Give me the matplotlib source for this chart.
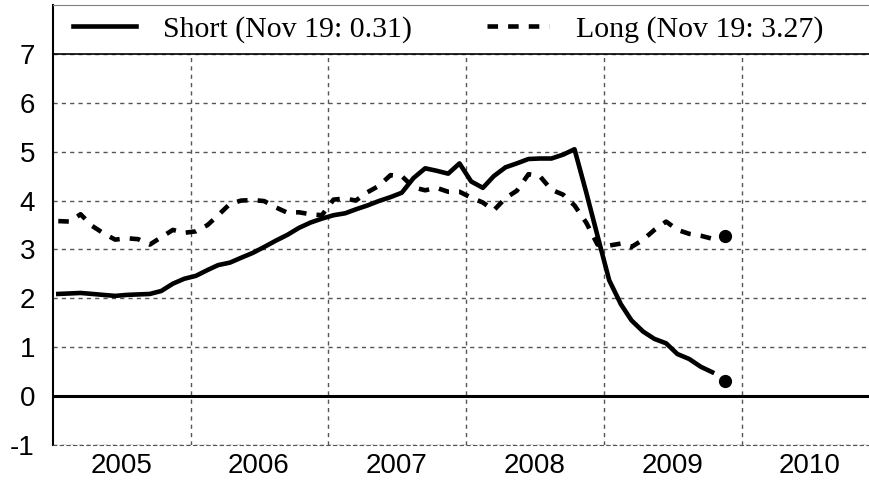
import numpy as np
import pandas as pd
import matplotlib
matplotlib.use("Agg")
import matplotlib.pyplot as plt

# Monthly readings, Jan 2005 .. Oct 2009 (plotted mid-month)
months = pd.date_range("2005-01-01", "2009-10-01", freq="MS") + pd.Timedelta(days=14)

short_rate = [2.09, 2.10, 2.11, 2.09, 2.07, 2.05, 2.07, 2.08, 2.09, 2.15, 2.30, 2.40,
              2.46, 2.58, 2.68, 2.73, 2.83, 2.93, 3.05, 3.18, 3.30, 3.44, 3.55, 3.63,
              3.70, 3.74, 3.82, 3.90, 3.99, 4.07, 4.16, 4.46, 4.66, 4.61, 4.55, 4.76,
              4.39, 4.26, 4.50, 4.68, 4.76, 4.85, 4.86, 4.86, 4.94, 5.05, 4.17, 3.28,
              2.37, 1.88, 1.55, 1.32, 1.17, 1.08, 0.86, 0.76, 0.60, 0.49]

long_rate = [3.58, 3.57, 3.72, 3.48, 3.33, 3.20, 3.23, 3.21, 3.10, 3.25, 3.40, 3.34,
             3.37, 3.50, 3.70, 3.93, 4.00, 4.01, 3.99, 3.86, 3.75, 3.76, 3.72, 3.70,
             4.02, 4.04, 4.00, 4.17, 4.30, 4.52, 4.50, 4.27, 4.21, 4.26, 4.18, 4.18,
             4.06, 3.96, 3.80, 4.05, 4.20, 4.54, 4.50, 4.22, 4.12, 3.90, 3.55, 3.10,
             3.08, 3.12, 3.05, 3.20, 3.40, 3.57, 3.40, 3.32, 3.28, 3.22]

latest_date = pd.Timestamp("2009-11-19")
latest_short = 0.31
latest_long = 3.27

years = [2005, 2006, 2007, 2008, 2009, 2010]
y_ticks = [-1, 0, 1, 2, 3, 4, 5, 6, 7]

fig = plt.figure(figsize=(8.69, 4.80), dpi=100)
ax = fig.add_axes([53 / 869, 35 / 480, 816 / 869, 440 / 480])

ax.plot(months, short_rate, color="black", lw=3.3, solid_joinstyle="round",
        label=f"Short (Nov 19: {latest_short:.2f})")
ax.plot(months, long_rate, color="black", lw=3.3, linestyle=(0, (2.3, 2.2)),
        label=f"Long (Nov 19: {latest_long:.2f})")
ax.plot([latest_date], [latest_short], "o", color="black", ms=8.5)
ax.plot([latest_date], [latest_long], "o", color="black", ms=8.5)

ax.axhline(0, color="black", lw=2.2, zorder=1)

# legend strip across the top of the plot (7..8)
ax.axhspan(7, 8, color="white", zorder=2, lw=0)
ax.axhline(7, color="black", lw=1.2, zorder=2.1)

ax.set_xlim(pd.Timestamp("2005-01-01"), pd.Timestamp("2010-12-05"))
ax.set_ylim(-1, 8)

# year boundaries carry the grid, labels sit mid-year
ax.set_xticks([pd.Timestamp(f"{y}-01-01") for y in years[1:]])
ax.set_xticklabels([])
ax.set_xticks([pd.Timestamp(f"{y}-07-01") for y in years], minor=True)
ax.set_xticklabels([str(y) for y in years], minor=True)
ax.set_yticks(y_ticks)
ax.set_yticklabels([str(v) for v in y_ticks])

ax.tick_params(axis="both", which="both", length=0)
ax.tick_params(axis="y", pad=13, labelsize=20)
ax.tick_params(axis="x", which="minor", pad=6, labelsize=20)
for lab in ax.get_xticklabels(minor=True) + ax.get_yticklabels():
    lab.set_fontfamily("Liberation Sans")

ax.grid(True, which="major", color="#555555", lw=1, linestyle=(0, (3, 3)))
ax.set_axisbelow(True)

ax.spines["right"].set_visible(False)
ax.spines["top"].set_color("#808080")
ax.spines["left"].set_color("black")
ax.spines["left"].set_linewidth(1.5)
ax.spines["bottom"].set_color("#555555")
ax.spines["bottom"].set_linestyle((0, (3, 3)))

leg = ax.legend(loc="center left", bbox_to_anchor=(0.014, 1 - 0.5 / 9), ncol=2,
                borderaxespad=0, borderpad=0.3, handlelength=2.1, handletextpad=0.9,
                columnspacing=2.5, frameon=False,
                prop={"family": "Liberation Serif", "size": 21.5})
leg.set_zorder(3)

fig.savefig("out.png", dpi=100)
